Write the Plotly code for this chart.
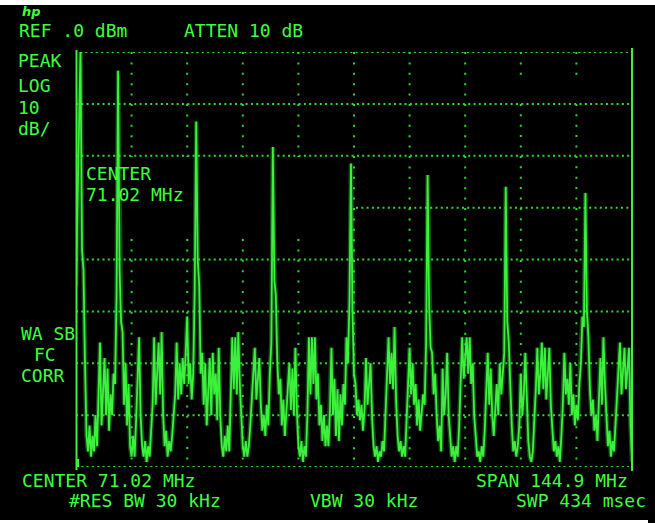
import numpy as np
import plotly.graph_objects as go

# ---------------- data ----------------
center_mhz = 71.02
span_mhz = 144.9
ref_dbm = 0.0
db_per_div = 10
n_vdiv = 8

f_start = center_mhz - span_mhz / 2
f_stop = center_mhz + span_mhz / 2

level_dbm = [
    # div 0
    -45, -30, -10, 0.5, -38, -42, -60, -74, -77, -72, -78, -74, -77, -70, -76, -68,
    -56, -72, -65, -59, -70, -61, -73, -66, -70, -62, -64, -47, -3.6, -42, -52, -54,
    -68, -60, -72, -64, -76,
    # div 1
    -78, -74, -78, -71, -64, -55, -70, -76, -78, -75, -79, -76, -78, -73, -68, -55,
    -68, -62, -56, -66, -54, -70, -76, -73, -78, -75, -77, -74, -70, -66, -56, -67,
    -60, -66, -59, -64, -58,
    # div 2
    -51, -64, -60, -67, -62, -46, -13.4, -40, -45, -62, -58, -68, -60, -72, -66, -59,
    -70, -58, -66, -62, -71, -57, -70, -76, -78, -74, -77, -72, -77, -68, -55, -65,
    -55, -66, -54, -64, -71,
    # div 3
    -76, -78, -75, -78, -76, -72, -66, -62, -57, -67, -63, -59, -68, -73, -70, -74,
    -68, -72, -62, -56, -18.3, -44, -47, -60, -66, -63, -72, -67, -74, -70, -66, -60,
    -69, -61, -70, -57, -69,
    # div 4
    -76, -78, -75, -79, -76, -78, -70, -55, -66, -55, -64, -55, -67, -62, -72, -68,
    -75, -70, -76, -72, -76, -69, -57, -70, -63, -74, -65, -75, -66, -72, -64, -68,
    -55, -60, -48, -21.5, -50,
    # div 5
    -62, -64, -70, -67, -71, -68, -73, -69, -59, -68, -64, -60, -70, -76, -78, -76,
    -79, -77, -78, -75, -77, -70, -62, -55, -64, -58, -65, -53, -67, -74, -77, -75,
    -78, -76, -78, -72, -64,
    # div 6
    -57, -66, -60, -68, -64, -72, -67, -73, -70, -66, -68, -56, -23.7, -49, -57, -58,
    -66, -62, -70, -75, -72, -77, -61, -70, -66, -58, -70, -74, -78, -76, -79, -76,
    -78, -72, -64, -55, -63,
    # div 7
    -58, -55, -62, -55, -64, -60, -70, -75, -78, -77, -79, -76, -78, -73, -66, -58,
    -68, -61, -70, -74, -69, -64, -70, -60, -66, -62, -58, -26.0, -52, -56, -66, -72,
    -77, -75, -78, -76, -72,
    # div 8
    -62, -70, -66, -58, -68, -75, -78, -79, -77, -72, -65, -57, -66, -62, -56, -65,
    -57, -67, -63, -57, -68, -72, -77, -75, -78, -76, -79, -74, -68, -58, -66, -63,
    -68, -60, -70, -66, -72,
    # div 9
    -68, -71, -64, -60, -51, -53, -27.2, -50, -55, -65, -70, -67, -73, -70, -75, -66,
    -59, -68, -55, -64, -70, -76, -73, -78, -75, -77, -72, -66, -62, -56, -66, -61,
    -57, -65, -60, -57, -72, -79,
]

freq_mhz = np.linspace(f_start, f_stop, len(level_dbm))

top_labels = ["REF .0 dBm", "ATTEN 10 dB"]
left_labels = ["PEAK", "LOG", "10", "dB/"]
marker_labels = ["CENTER", "71.02 MHz"]
corr_labels = ["WA SB", "FC", "CORR"]
bottom_labels = ["CENTER 71.02 MHz", "SPAN 144.9 MHz", "#RES BW 30 kHz", "VBW 30 kHz", "SWP 434 msec"]

# ---------------- layout helpers ----------------
W, H = 655, 523
L, R, T, B = 76, 632, 52, 467
TXT = "#3dff3d"
GRID = "#2fd82f"
TRACE = "#3cf03c"
FONT = "DejaVu Sans Mono"


def px(x):
    return (x - L) / (R - L)


def py(y):
    return (B - y) / (B - T)


fig = go.Figure()
fig.add_trace(go.Scatter(x=freq_mhz, y=level_dbm, mode="lines",
                         line=dict(color="rgba(40,230,60,0.35)", width=4.5),
                         hoverinfo="skip", showlegend=False))
fig.add_trace(go.Scatter(x=freq_mhz, y=level_dbm, mode="lines",
                         line=dict(color=TRACE, width=1.8),
                         showlegend=False))

shapes = []
# horizontal dotted graticule
for k in range(n_vdiv + 1):
    lvl = ref_dbm - k * db_per_div
    x0 = px(80) if k == 0 else 0
    if k == 3:
        x0 = px(356)
    shapes.append(dict(type="line", xref="paper", yref="y", x0=x0, x1=1, y0=lvl, y1=lvl,
                       line=dict(color=GRID, width=2, dash="2px,3.3px"), layer="below"))
# vertical dotted graticule
div_mhz = span_mhz / 10
gap_top = -(157 - T) / (B - T) * 80
gap_bot = -(239 - T) / (B - T) * 80
for k in range(1, 10):
    f = f_start + k * div_mhz
    segs = [(0, -80)]
    if k <= 4:
        segs = [(0, gap_top), (gap_bot, -80)]
    if k >= 8:
        segs = [(0, -4.5), (-10, -80)]
    for a, b in segs:
        shapes.append(dict(type="line", xref="x", yref="y", x0=f, x1=f, y0=a, y1=b,
                           line=dict(color=GRID, width=2, dash="2px,8.4px"), layer="below"))
# borders
shapes.append(dict(type="line", xref="paper", yref="paper", x0=px(76.5), x1=px(76.5),
                   y0=py(470), y1=py(50), line=dict(color=TRACE, width=2)))
shapes.append(dict(type="line", xref="paper", yref="paper", x0=px(632), x1=px(632),
                   y0=py(471), y1=py(48), line=dict(color=TRACE, width=2)))
shapes.append(dict(type="line", xref="paper", yref="paper", x0=px(78), x1=px(78),
                   y0=py(467), y1=py(459), line=dict(color=TRACE, width=2)))
# photo edges
shapes.append(dict(type="rect", xref="paper", yref="paper", x0=px(0), x1=px(W),
                   y0=py(5), y1=py(0), fillcolor="white", line=dict(width=0), layer="above"))
shapes.append(dict(type="rect", xref="paper", yref="paper", x0=px(0), x1=px(648),
                   y0=py(523), y1=py(520), fillcolor="white", line=dict(width=0), layer="above"))

ann = []


def text(s, x, y, size=18):
    ann.append(dict(text=s, x=px(x), y=py(y), xref="paper", yref="paper",
                    xanchor="left", yanchor="middle", showarrow=False,
                    font=dict(family=FONT, size=size, color=TXT)))


text(top_labels[0], 17, 31)
text(top_labels[1], 182, 31)
for s, y in zip(left_labels, [60, 85, 107, 128]):
    text(s, 16, y)
text(marker_labels[0], 84, 173)
text(marker_labels[1], 84, 194)
text(corr_labels[0], 19, 333)
text(corr_labels[1], 32, 354)
text(corr_labels[2], 19, 375)
text(bottom_labels[0], 20, 481)
text(bottom_labels[1], 474, 481)
text(bottom_labels[2], 67, 500)
text(bottom_labels[3], 308, 500)
text(bottom_labels[4], 514, 500)
ann.append(dict(text="<b><i>hp</i></b>", x=px(20), y=py(12), xref="paper", yref="paper",
                xanchor="left", yanchor="middle", showarrow=False,
                font=dict(family="DejaVu Sans", size=13, color=TXT)))

fig.update_layout(
    width=W, height=H,
    margin=dict(l=L, r=W - R, t=T, b=H - B, pad=0),
    paper_bgcolor="black", plot_bgcolor="black",
    xaxis=dict(range=[f_start, f_stop], visible=False, showgrid=False, zeroline=False),
    yaxis=dict(range=[ref_dbm - n_vdiv * db_per_div, ref_dbm], visible=False,
               showgrid=False, zeroline=False),
    shapes=shapes, annotations=ann, showlegend=False,
)

fig.write_html("out.html", config={"displayModeBar": False},
               post_script="document.body.style.margin='0px';")
